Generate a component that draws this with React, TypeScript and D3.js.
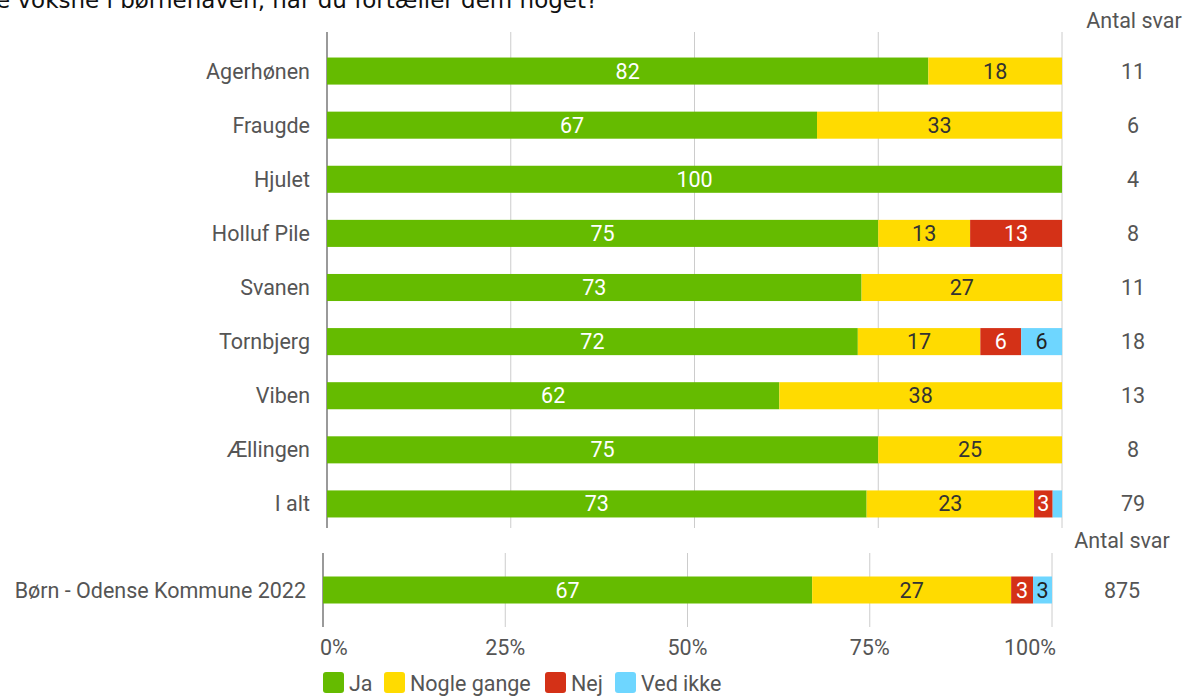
import React from "react";
import * as d3 from "d3";

const title = "e voksne i børnehaven, når du fortæller dem noget?";
const categories = ["Agerhønen", "Fraugde", "Hjulet", "Holluf Pile", "Svanen", "Tornbjerg", "Viben", "Ællingen", "I alt"];
const ja = [81.82, 66.67, 100, 75, 72.73, 72.22, 61.54, 75, 73.42];
const nogleGange = [18.18, 33.33, 0, 12.5, 27.27, 16.67, 38.46, 25, 22.78];
const nej = [0, 0, 0, 12.5, 0, 5.56, 0, 0, 2.53];
const vedIkke = [0, 0, 0, 0, 0, 5.56, 0, 0, 1.27];
const antalSvar = [11, 6, 4, 8, 11, 18, 13, 8, 79];

const compCategory = ["Børn - Odense Kommune 2022"];
const compJa = [67.1];
const compNogle = [27.3];
const compNej = [3.0];
const compVedIkke = [2.6];
const compAntal = [875];

const seriesNames = ["Ja", "Nogle gange", "Nej", "Ved ikke"];
const seriesKeys = ["ja", "nogle", "nej", "ved"];
const colors = ["#65BB00", "#FFDB00", "#D43117", "#6ED6FF"];
const labelColors = ["#ffffff", "#333333", "#ffffff", "#222222"];
const ticks = [0, 25, 50, 75, 100];

const FONT = "Roboto, 'Noto Sans', sans-serif";
const TXT = "#555555";
const FS = 21.5;

function buildRows(cats: string[], a: number[], b: number[], c: number[], d: number[]) {
  return cats.map((cat, i) => ({ cat, ja: a[i], nogle: b[i], nej: c[i], ved: d[i] }));
}

const stack = d3.stack<any>().keys(seriesKeys);

function Panel({ rows, x, y, counts }: any) {
  const series = stack(rows);
  return (
    <g>
      {series.map((s, si) =>
        s.map((d, i) => {
          const x0 = x(d[0]);
          const x1 = x(d[1]);
          const w = x1 - x0;
          if (w <= 0) return null;
          const cat = rows[i].cat;
          const yy = y(cat)!;
          const val = d[1] - d[0];
          return (
            <g key={`${si}-${i}`}>
              <rect x={x0} y={yy} width={w} height={y.bandwidth()} fill={colors[si]} />
              {w >= 14 && (
                <text
                  x={(x0 + x1) / 2}
                  y={yy + y.bandwidth() / 2 + 7.5}
                  textAnchor="middle"
                  fontSize={FS}
                  fill={labelColors[si]}
                >
                  {Math.round(val)}
                </text>
              )}
            </g>
          );
        })
      )}
      {rows.map((r: any, i: number) => (
        <text key={"c" + i} x={x.range()[0] - 17} y={y(r.cat)! + y.bandwidth() / 2 + 7.5} textAnchor="end" fontSize={FS} fill={TXT}>
          {r.cat}
        </text>
      ))}
      {rows.map((r: any, i: number) => (
        <text key={"n" + i} x={counts.x} y={y(r.cat)! + y.bandwidth() / 2 + 7.5} textAnchor="middle" fontSize={FS} fill={TXT}>
          {counts.values[i]}
        </text>
      ))}
    </g>
  );
}

function Grid({ x, y0, y1 }: any) {
  return (
    <g>
      {ticks.map((t) => (
        <line
          key={t}
          x1={x(t)}
          x2={x(t)}
          y1={y0}
          y2={y1}
          stroke={t === 0 ? "#9a9a9a" : "#cccccc"}
          strokeWidth={t === 0 ? 2 : 1}
        />
      ))}
    </g>
  );
}

export default function App() {
  const rows = buildRows(categories, ja, nogleGange, nej, vedIkke);
  const compRows = buildRows(compCategory, compJa, compNogle, compNej, compVedIkke);

  const x = d3.scaleLinear().domain([0, 100]).range([327, 1062]);
  const y = d3.scaleBand<string>().domain(categories).range([44, 531]).paddingInner(0.5).paddingOuter(0.25);

  const x2 = d3.scaleLinear().domain([0, 100]).range([323, 1052]);
  const y2 = d3.scaleBand<string>().domain(compCategory).range([563, 617]).paddingInner(0.5).paddingOuter(0.25);

  const legendX = [323, 384, 545, 615];

  return (
    <div style={{ position: "absolute", left: 0, top: 0 }}>
      <svg width={1193} height={698} style={{ display: "block", fontFamily: FONT }}>
        <rect width={1193} height={698} fill="#ffffff" />
        <text x={-4} y={8} fontSize={23} fill="#111111" fontFamily="'DejaVu Sans', Verdana, sans-serif">
          {title}
        </text>

        <Grid x={x} y0={32} y1={528} />
        <Grid x={x2} y0={553} y1={627} />

        <text x={1134} y={28} textAnchor="middle" fontSize={FS} fill={TXT}>Antal svar</text>
        <text x={1122} y={548} textAnchor="middle" fontSize={FS} fill={TXT}>Antal svar</text>

        <Panel rows={rows} x={x} y={y} counts={{ x: 1133, values: antalSvar }} />
        <Panel rows={compRows} x={x2} y={y2} counts={{ x: 1122, values: compAntal }} />

        {ticks.map((t, i) => (
          <text
            key={t}
            x={i === 0 ? x2(t) - 3 : i === ticks.length - 1 ? x2(t) + 4 : x2(t)}
            y={655}
            textAnchor={i === 0 ? "start" : i === ticks.length - 1 ? "end" : "middle"}
            fontSize={FS}
            fill={TXT}
          >
            {t + "%"}
          </text>
        ))}

        {seriesNames.map((name, i) => (
          <g key={name} transform={`translate(${legendX[i]},672)`}>
            <rect width={21} height={21} rx={3} fill={colors[i]} />
            <text x={26} y={18.5} fontSize={FS} fill={TXT}>{name}</text>
          </g>
        ))}
      </svg>
    </div>
  );
}
